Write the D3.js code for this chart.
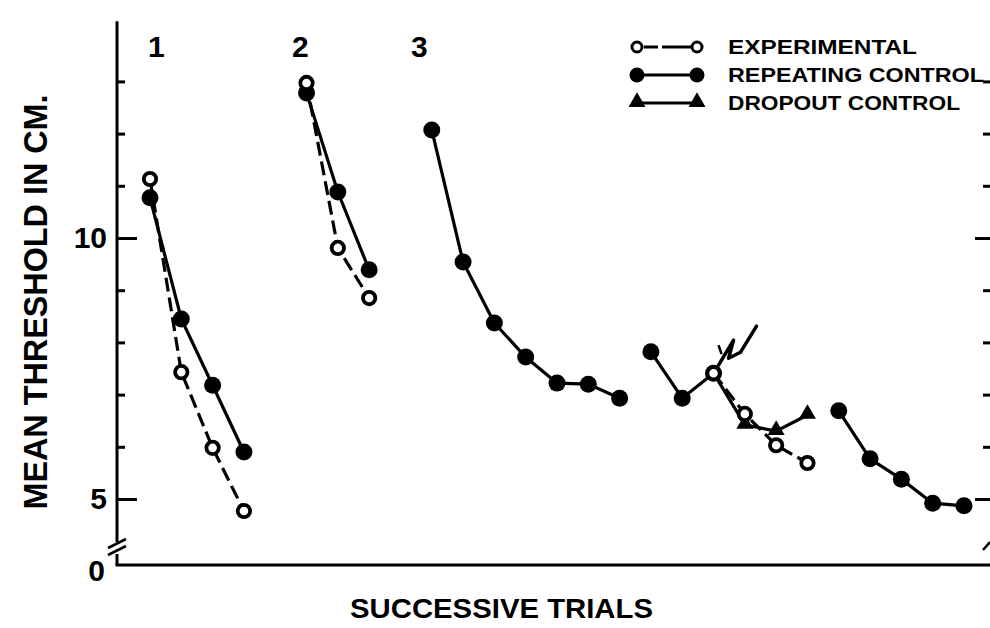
<!DOCTYPE html>
<html>
<head>
<meta charset="utf-8">
<script src="https://cdn.jsdelivr.net/npm/d3@7/dist/d3.min.js"></script>
<style>
  html, body { margin: 0; padding: 0; background: #fff; }
  svg { display: block; }
  text { font-family: "Liberation Sans", Arial, sans-serif; font-weight: bold; fill: #000; }
</style>
</head>
<body>
<svg id="chart" width="990" height="628"></svg>
<script>
// ---------------- DATA ----------------
// Trials are numbered consecutively along the x axis (gaps separate sessions).
const sessionLabels = ["1", "2", "3"];
const sessionLabelTrials = [0.2, 4.8, 8.6];

const expTrials = [[0, 1, 2, 3], [5, 6, 7], [18, 19, 20, 21]];
const expValues = [[11.13, 7.43, 5.98, 4.77], [12.97, 9.81, 8.85], [7.41, 6.63, 6.03, 5.69]];

const repTrials = [[0, 1, 2, 3], [5, 6, 7], [9, 10, 11, 12, 13, 14, 15], [16, 17, 18], [22, 23, 24, 25, 26]];
const repValues = [[10.77, 8.45, 7.18, 5.90], [12.78, 10.88, 9.39], [12.07, 9.54, 8.37, 7.72, 7.22, 7.20, 6.93], [7.82, 6.93, 7.41], [6.69, 5.77, 5.38, 4.92, 4.87]];

// dropout control starts from the shared point at trial 18
const dropTrials = [[18, 19, 20, 21]];
const dropValues = [[7.41, 6.42, 6.30, 6.61]];

const majorTicks = [5, 10];
const minorTicks = [6, 7, 8, 9, 11, 12, 13];
const legendLabels = ["EXPERIMENTAL", "REPEATING CONTROL", "DROPOUT CONTROL"];
const yTitle = "MEAN THRESHOLD IN CM.";
const xTitle = "SUCCESSIVE TRIALS";

// ---------------- LAYOUT ----------------
const svg = d3.select("#chart");
const axisLeftX = 117, axisRightX = 990, baseY = 565;
const x = d3.scaleLinear().domain([0, 26]).range([150, 964]);
const y = d3.scaleLinear().domain([5, 10]).range([499, 238]);
const breakV = 4.1; // where the axis is broken (between 5 and 0)

const ink = "#000";

// left axis line (broken)
svg.append("line").attr("x1", axisLeftX).attr("x2", axisLeftX)
  .attr("y1", y(14.15)).attr("y2", y(breakV) - 4)
  .attr("stroke", ink).attr("stroke-width", 3);
// break marks
[0, 7].forEach(o => {
  svg.append("line")
    .attr("x1", axisLeftX - 9).attr("y1", y(breakV) + 2 + o)
    .attr("x2", axisLeftX + 9).attr("y2", y(breakV) - 7 + o)
    .attr("stroke", ink).attr("stroke-width", 2.6);
});
svg.append("line").attr("x1", axisLeftX).attr("x2", axisLeftX)
  .attr("y1", y(breakV) + 8).attr("y2", baseY)
  .attr("stroke", ink).attr("stroke-width", 3);
// bottom axis
svg.append("line").attr("x1", axisLeftX - 1.5).attr("x2", axisRightX)
  .attr("y1", baseY).attr("y2", baseY)
  .attr("stroke", ink).attr("stroke-width", 3);

// left ticks (drawn inward) via d3 axes
const gMinor = svg.append("g").attr("transform", `translate(${axisLeftX},0)`)
  .call(d3.axisRight(y).tickValues(minorTicks).tickSize(8).tickFormat(""));
const gMajor = svg.append("g").attr("transform", `translate(${axisLeftX},0)`)
  .call(d3.axisRight(y).tickValues(majorTicks).tickSize(20).tickFormat(""));
const gLabels = svg.append("g").attr("transform", `translate(${axisLeftX},0)`)
  .call(d3.axisLeft(y).tickValues(majorTicks).tickSize(0).tickPadding(10).tickFormat(d3.format("d")));
// right axis ticks
const gRMinor = svg.append("g").attr("transform", `translate(${axisRightX},0)`)
  .call(d3.axisLeft(y).tickValues(minorTicks).tickSize(7).tickFormat(""));
const gRMajor = svg.append("g").attr("transform", `translate(${axisRightX},0)`)
  .call(d3.axisLeft(y).tickValues(majorTicks).tickSize(15).tickFormat(""));
[gMinor, gMajor, gLabels, gRMinor, gRMajor].forEach(g => {
  g.select(".domain").remove();
  g.selectAll(".tick line").attr("stroke", ink).attr("stroke-width", 3);
});
gLabels.selectAll(".tick text")
  .style("font-family", "'Liberation Sans', Arial, sans-serif")
  .style("font-weight", "bold").style("font-size", "30px").attr("fill", ink);
// zero label under the break
svg.append("text").attr("x", axisLeftX - 12).attr("y", baseY + 8)
  .attr("text-anchor", "end").attr("dominant-baseline", "middle")
  .style("font-size", "30px").text("0");
// right break mark
svg.append("line").attr("x1", axisRightX - 7).attr("y1", y(breakV) + 4)
  .attr("x2", axisRightX).attr("y2", y(breakV) - 4)
  .attr("stroke", ink).attr("stroke-width", 2.5);

// titles
svg.append("text")
  .attr("transform", `translate(47,${302}) rotate(-90)`)
  .attr("text-anchor", "middle")
  .attr("textLength", 415).attr("lengthAdjust", "spacingAndGlyphs")
  .style("font-size", "34px").text(yTitle);
svg.append("text").attr("x", 350).attr("y", 618)
  .attr("textLength", 303).attr("lengthAdjust", "spacingAndGlyphs")
  .style("font-size", "28px").text(xTitle);

// session labels
svg.selectAll(".session").data(sessionLabels).join("text")
  .attr("class", "session")
  .attr("x", (d, i) => x(sessionLabelTrials[i]))
  .attr("y", 57).attr("text-anchor", "middle")
  .style("font-size", "30px").text(d => d);

// ---------------- SERIES ----------------
const line = d3.line().x(d => x(d[0])).y(d => y(d[1]));
function pairs(ts, vs) { return ts.map((t, i) => [t, vs[i]]); }

const tri = d3.symbol().type(d3.symbolTriangle).size(125);

// repeating control (solid)
repTrials.forEach((ts, k) => {
  svg.append("path").datum(pairs(ts, repValues[k])).attr("d", line)
    .attr("fill", "none").attr("stroke", ink).attr("stroke-width", 3.2);
});
// dropout control (solid)
dropTrials.forEach((ts, k) => {
  svg.append("path").datum(pairs(ts, dropValues[k])).attr("d", line)
    .attr("fill", "none").attr("stroke", ink).attr("stroke-width", 3.2);
});
// experimental (dashed)
expTrials.forEach((ts, k) => {
  svg.append("path").datum(pairs(ts, expValues[k])).attr("d", line)
    .attr("fill", "none").attr("stroke", ink).attr("stroke-width", 3.2)
    .attr("stroke-dasharray", "14,6");
});
// markers
repTrials.forEach((ts, k) => {
  svg.selectAll(null).data(pairs(ts, repValues[k])).join("circle")
    .attr("cx", d => x(d[0])).attr("cy", d => y(d[1])).attr("r", 8.5).attr("fill", ink);
});
dropTrials.forEach((ts, k) => {
  svg.selectAll(null).data(pairs(ts, dropValues[k]).slice(1)).join("path")
    .attr("d", tri).attr("transform", d => `translate(${x(d[0])},${y(d[1]) - 1})`).attr("fill", ink);
});
expTrials.forEach((ts, k) => {
  svg.selectAll(null).data(pairs(ts, expValues[k])).join("circle")
    .attr("cx", d => x(d[0])).attr("cy", d => y(d[1])).attr("r", 6.2)
    .attr("fill", "#fff").attr("stroke", ink).attr("stroke-width", 3.8);
});

// handwritten annotation pointing at the shared point (trial 18)
{
  const px = x(18), py = y(7.41);
  const scrib = [[5, -8], [20, -33], [15, -15], [27, -21], [43, -47]];
  svg.append("path").attr("d", d3.line()(scrib.map(p => [px + p[0], py + p[1]])))
    .attr("fill", "none").attr("stroke", ink).attr("stroke-width", 3.5)
    .attr("stroke-linecap", "round").attr("stroke-linejoin", "round");
  svg.append("line").attr("x1", px + 5).attr("y1", py - 28).attr("x2", px + 8).attr("y2", py - 19)
    .attr("stroke", ink).attr("stroke-width", 2.5);
}

// ---------------- LEGEND ----------------
const legX1 = 637, legX2 = 697, legTextX = 728;
const legY = [47, 75, 103];
const legLen = [189, 256, 232];
legendLabels.forEach((lab, i) => {
  const g = svg.append("g");
  const ly = legY[i];
  g.append("line").attr("x1", legX1).attr("x2", legX2).attr("y1", ly).attr("y2", ly)
    .attr("stroke", ink).attr("stroke-width", 3)
    .attr("stroke-dasharray", i === 0 ? "0,7,14,4,40" : null);
  [legX1, legX2].forEach(lx => {
    if (i === 0) {
      g.append("circle").attr("cx", lx).attr("cy", ly).attr("r", 5)
        .attr("fill", "#fff").attr("stroke", ink).attr("stroke-width", 3);
    } else if (i === 1) {
      g.append("circle").attr("cx", lx).attr("cy", ly).attr("r", 7.5).attr("fill", ink);
    } else {
      g.append("path").attr("d", tri).attr("transform", `translate(${lx},${ly - 1})`).attr("fill", ink);
    }
  });
  g.append("text").attr("x", legTextX).attr("y", ly).attr("dominant-baseline", "central")
    .attr("textLength", legLen[i]).attr("lengthAdjust", "spacingAndGlyphs")
    .style("font-size", "20px").text(lab);
});
</script>
</body>
</html>
